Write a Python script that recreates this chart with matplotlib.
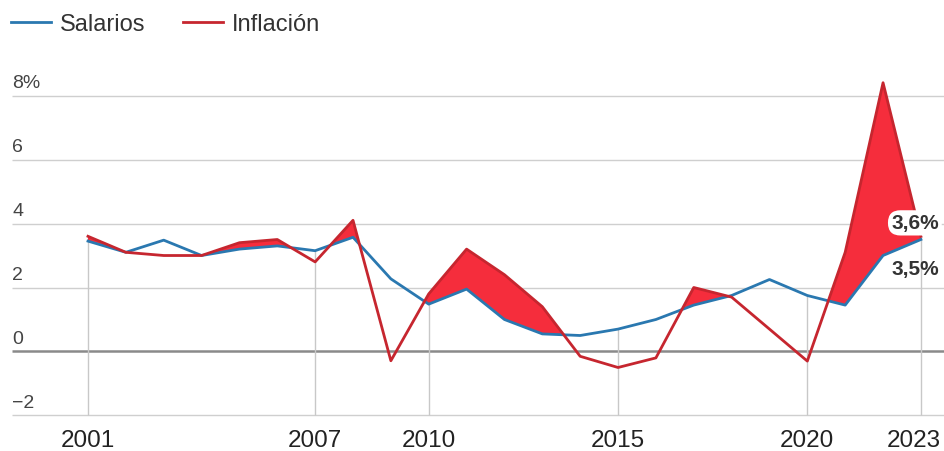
import matplotlib.pyplot as plt
from matplotlib.transforms import ScaledTranslation
import numpy as np

# Datos: variación anual (%) de salarios e inflación
anios = np.arange(2001, 2024)
salarios = [3.45, 3.1, 3.48, 3.0, 3.2, 3.3, 3.15, 3.57, 2.27, 1.48, 1.95, 1.0,
            0.55, 0.5, 0.7, 1.0, 1.45, 1.75, 2.25, 1.75, 1.45, 3.0, 3.5]
inflacion = [3.6, 3.1, 3.0, 3.0, 3.4, 3.5, 2.8, 4.1, -0.29, 1.8, 3.2, 2.4,
             1.4, -0.15, -0.5, -0.2, 2.0, 1.7, 0.7, -0.3, 3.1, 8.4, 3.6]
anios_marcados = [2001, 2007, 2010, 2015, 2020, 2023]
yticks = [-2, 0, 2, 4, 6, 8]
ytick_labels = ['\u22122', '0', '2', '4', '6', '8%']

azul = '#2a78b0'
rojo_linea = '#c6262f'
rojo_relleno = '#f52d3c'
gris_texto = '#333333'

plt.rcParams['font.family'] = ['Liberation Sans', 'DejaVu Sans']

fig = plt.figure(figsize=(9.44, 4.52), dpi=100)
ax = fig.add_axes([0, 0.0644, 1, 0.807])
ax.set_xlim(1998.676, 2023.61)
ax.set_ylim(-2.2, 9.2)

sal = np.array(salarios)
inf = np.array(inflacion)

# rejilla horizontal + etiquetas encima de cada línea
for v, lab in zip(yticks, ytick_labels):
    if v == 0:
        ax.hlines(v, 1999.0, 2023.61, color='#8a8a8a', lw=1.8, zorder=1)
    else:
        ax.hlines(v, 1999.0, 2023.61, color='#cfcfcf', lw=1.0, zorder=1)
    ax.text(1999.0, v + 0.15, lab, fontsize=14, color='#444444',
            ha='left', va='bottom')

# líneas verticales hasta el dato más alto del año
for a in anios_marcados:
    i = list(anios).index(a)
    ax.vlines(a, -2, max(sal[i], inf[i]), color='#c8c8c8', lw=1.0, zorder=1)

ax.fill_between(anios, sal, inf, where=inf > sal, interpolate=True,
                color=rojo_relleno, lw=0, zorder=2)
ax.plot(anios, salarios, color=azul, lw=2.0, label='Salarios', zorder=3)
ax.plot(anios, inflacion, color=rojo_linea, lw=2.0, label='Inflación', zorder=4)

ax.text(2023.47, 4.02, '3,6%', fontsize=15, fontweight='bold', color=gris_texto,
        ha='right', va='center', zorder=5,
        bbox=dict(boxstyle='round,pad=0.15,rounding_size=0.6', fc='white', ec='none'))
ax.text(2023.47, 2.6, '3,5%', fontsize=15, fontweight='bold', color=gris_texto,
        ha='right', va='center', zorder=5)

ax.set_xticks(anios_marcados)
ax.set_xticklabels([str(a) for a in anios_marcados], fontsize=17.5, color='#222222')
ax.tick_params(axis='x', length=0, pad=5)
# la última etiqueta (2023) se alinea al borde derecho
ultima = ax.get_xticklabels()[-1]
ultima.set_ha('right')
ultima.set_transform(ultima.get_transform() + ScaledTranslation(0.2, 0, fig.dpi_scale_trans))
ax.set_yticks([])
for s in ax.spines.values():
    s.set_visible(False)

fig.legend(loc='upper left', bbox_to_anchor=(-0.003, 1.0), ncol=2, frameon=False,
           fontsize=17, handlelength=1.7, handletextpad=0.35, columnspacing=1.6,
           borderaxespad=0.2, labelcolor='#333333')

fig.savefig('out.png', dpi=100)
